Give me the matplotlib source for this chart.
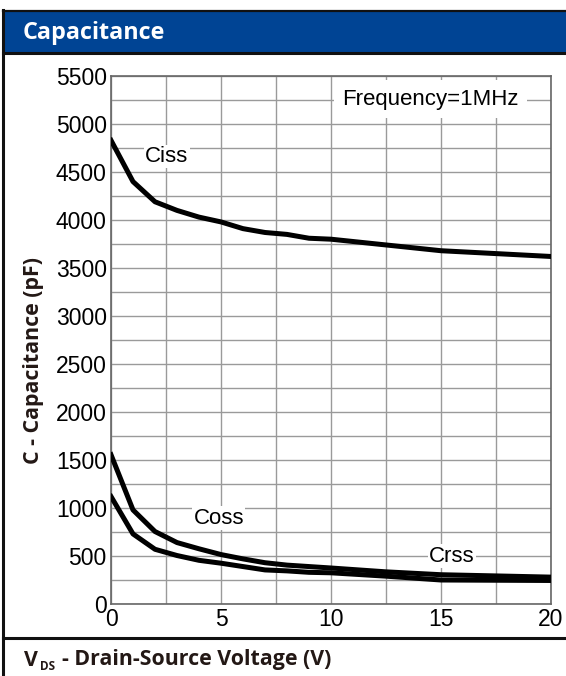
import matplotlib
matplotlib.use("Agg")
import matplotlib.pyplot as plt
from matplotlib.patches import Rectangle
from matplotlib.lines import Line2D
import numpy as np

# Data
vds = [0, 1, 2, 3, 4, 5, 6, 7, 8, 9, 10, 12.5, 15, 20]
ciss = [4830, 4400, 4190, 4100, 4030, 3980, 3910, 3870, 3850, 3810, 3800, 3740, 3680, 3620]
coss = [1555, 980, 755, 640, 575, 515, 470, 430, 405, 390, 375, 335, 305, 280]
crss = [1120, 730, 570, 505, 455, 425, 390, 355, 345, 330, 325, 290, 250, 245]
xticks = [0, 5, 10, 15, 20]
yticks = list(range(0, 5501, 500))

W, H = 566, 676
fig = plt.figure(figsize=(W / 100, H / 100), dpi=100)

def fx(px):
    return px / W

def fy(py):
    return 1 - py / H

# Header band
fig.patches.append(Rectangle((fx(3), fy(52)), fx(566) - fx(3), fy(11) - fy(52),
                             transform=fig.transFigure, facecolor="#004494",
                             edgecolor="none", zorder=0))
# Frame lines
dark = "#111111"
fig.lines.append(Line2D([fx(3), fx(3)], [fy(10), fy(676)], transform=fig.transFigure, color=dark, lw=2.2))
fig.lines.append(Line2D([fx(3), fx(566)], [fy(10.5), fy(10.5)], transform=fig.transFigure, color=dark, lw=1.6))
fig.lines.append(Line2D([fx(3), fx(566)], [fy(52.5), fy(52.5)], transform=fig.transFigure, color=dark, lw=2.2))
fig.lines.append(Line2D([fx(3), fx(566)], [fy(637.5), fy(637.5)], transform=fig.transFigure, color=dark, lw=2.2))

bold_fam = ["Open Sans", "DejaVu Sans"]
fig.text(fx(23), fy(33), "Capacitance", color="white", fontsize=16.8, fontweight="bold",
         family=bold_fam, va="center", ha="left")

txtcol = "#231815"
fig.text(fx(24), fy(660), "V", color=txtcol, fontsize=15.4, fontweight="bold",
         family=bold_fam, va="center", ha="left")
fig.text(fx(40), fy(666), "DS", color=txtcol, fontsize=8.5, fontweight="bold",
         family=bold_fam, va="center", ha="left")
fig.text(fx(62), fy(660), "- Drain-Source Voltage (V)", color=txtcol, fontsize=15.4,
         fontweight="bold", family=bold_fam, va="center", ha="left")
fig.text(fx(34), fy(360), "C - Capacitance (pF)", color=txtcol, fontsize=15.4,
         fontweight="bold", family=bold_fam, rotation=90,
         va="center", ha="center")

ax = fig.add_axes([fx(111), fy(604), fx(551) - fx(111), fy(76) - fy(604)])
ax.set_xlim(0, 20)
ax.set_ylim(0, 5500)
ax.set_xticks(xticks)
ax.set_yticks(yticks)
ax.set_xticks(np.arange(0, 20.01, 2.5), minor=True)
ax.set_yticks(np.arange(0, 5501, 250), minor=True)
ax.grid(True, which="both", color="#9a9a9a", lw=1.0)
ax.set_axisbelow(True)
for s in ax.spines.values():
    s.set_color("#666666")
    s.set_linewidth(1.2)
ax.tick_params(which="both", length=0, pad=3)
for lab in ax.get_xticklabels() + ax.get_yticklabels():
    lab.set_fontfamily("Liberation Sans")
    lab.set_fontsize(16.5)
    lab.set_color("black")

lw = 3.6
ax.plot(vds, ciss, color="black", lw=lw, zorder=3)
ax.plot(vds, coss, color="black", lw=lw, zorder=3)
ax.plot(vds, crss, color="black", lw=lw, zorder=3)

tkw = dict(fontfamily="Liberation Sans", fontsize=16, color="black", va="center", ha="left",
           zorder=4)
ax.text(1.55, 4660, "Ciss", bbox=dict(facecolor="white", edgecolor="none", pad=1), **tkw)
ax.text(3.75, 895, "Coss", bbox=dict(facecolor="white", edgecolor="none", pad=1), **tkw)
ax.text(14.45, 500, "Crss", bbox=dict(facecolor="white", edgecolor="none", pad=1), **tkw)
ax.text(10.5, 5260, "Frequency=1MHz",
        bbox=dict(facecolor="white", edgecolor="none", pad=6), **tkw)

fig.savefig("out.png", dpi=100)
